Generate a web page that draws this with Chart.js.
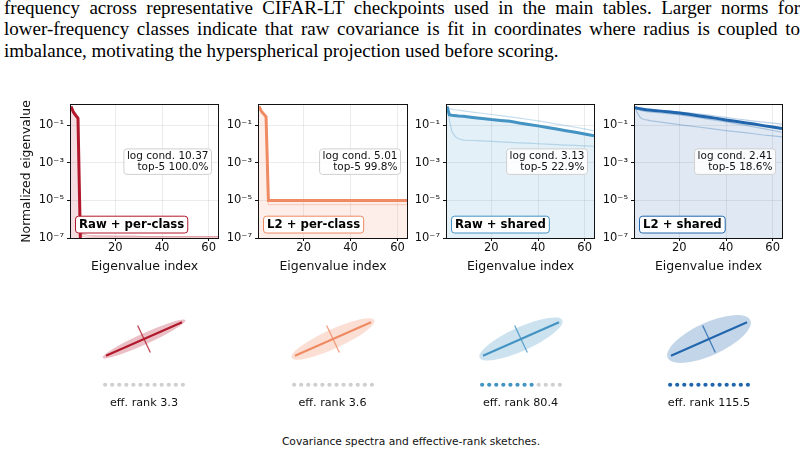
<!DOCTYPE html>
<html>
<head>
<meta charset="utf-8">
<script src="https://cdn.jsdelivr.net/npm/chart.js@4.4.1/dist/chart.umd.min.js"></script>
<style>
  body { margin:0; background:#fff; width:805px; height:454px; overflow:hidden; position:relative; font-family:"DejaVu Sans", sans-serif; color:#111; }
  .para { position:absolute; left:4px; width:796px; font-family:"Liberation Serif", serif; font-size:19px; line-height:21.5px; color:#000; white-space:nowrap; }
  .just { text-align:justify; text-align-last:justify; white-space:normal; height:21.5px; overflow:hidden; }
  canvas { position:absolute; }
  .rank { position:absolute; width:120px; text-align:center; font-size:11.2px; line-height:14px; }
  #caption { position:absolute; left:211px; width:400px; top:435px; text-align:center; font-size:10.7px; line-height:13px; }
</style>
</head>
<body>
<div class="para just" style="top:-3.5px">frequency across representative CIFAR-LT checkpoints used in the main tables. Larger norms for</div>
<div class="para just" style="top:18px">lower-frequency classes indicate that raw covariance is fit in coordinates where radius is coupled to</div>
<div class="para" style="top:39.5px">imbalance, motivating the hyperspherical projection used before scoring.</div>
<div id="caption">Covariance spectra and effective-rank sketches.</div>
<script>
var idx = [1,2,3,4,5,6,8,12,16,20,24,28,32,36,40,44,48,52,56,60,64];

// Raw + per-class
var rawPcMain  = [1.0,0.5,0.33,0.23,9e-8,7e-8,6e-8,5e-8,5e-8,5e-8,5e-8,5e-8,5e-8,5e-8,5e-8,5e-8,5e-8,5e-8,5e-8,5e-8,5e-8];
var rawPcThinA = [1.0,0.6,0.42,0.3,4e-7,1.6e-7,1.4e-7,1.3e-7,1.3e-7,1.25e-7,1.25e-7,1.25e-7,1.2e-7,1.2e-7,1.2e-7,1.2e-7,1.2e-7,1.2e-7,1.2e-7,1.2e-7,1.2e-7];
var rawPcThinB = [0.9,0.45,0.3,0.21,2e-7,1.2e-7,1.1e-7,1.1e-7,1.1e-7,1.1e-7,1.1e-7,1.1e-7,1.1e-7,1.1e-7,1.1e-7,1.1e-7,1.1e-7,1.1e-7,1.1e-7,1.1e-7,1.1e-7];
// L2 + per-class
var l2PcMain = [1.0,0.55,0.4,0.28,1e-5,1e-5,1e-5,1e-5,1e-5,1e-5,1e-5,1e-5,1e-5,1e-5,1e-5,1e-5,1e-5,1e-5,1e-5,1e-5,1e-5];
var l2PcThin = [0.95,0.5,0.36,0.25,6e-6,6e-6,6e-6,6e-6,6e-6,6e-6,6e-6,6e-6,6e-6,6e-6,6e-6,6e-6,6e-6,6e-6,6e-6,6e-6,6e-6];
// Raw + shared
var rawShMain  = [1.0,0.36,0.34,0.33,0.32,0.31,0.295,0.26,0.23,0.2,0.18,0.16,0.13,0.11,0.092,0.076,0.062,0.051,0.042,0.034,0.027];
var rawShUpper = [0.95,0.8,0.72,0.68,0.65,0.63,0.58,0.5,0.43,0.37,0.32,0.28,0.24,0.2,0.17,0.14,0.115,0.095,0.078,0.063,0.05];
var rawShLower = [1.0,0.2,0.05,0.03,0.022,0.019,0.016,0.0153,0.0145,0.0137,0.013,0.0122,0.0116,0.011,0.0103,0.0098,0.0093,0.0088,0.0084,0.008,0.0076];
// L2 + shared
var l2ShMain  = [0.87,0.8,0.76,0.72,0.69,0.66,0.62,0.56,0.5,0.44,0.38,0.32,0.27,0.23,0.19,0.16,0.135,0.115,0.095,0.08,0.066];
var l2ShUpper = [0.9,0.84,0.8,0.77,0.74,0.72,0.68,0.62,0.56,0.5,0.45,0.4,0.35,0.3,0.26,0.22,0.19,0.165,0.145,0.13,0.115];
var l2ShMid   = [0.87,0.7,0.62,0.58,0.55,0.53,0.5,0.45,0.4,0.35,0.3,0.26,0.21,0.18,0.15,0.12,0.1,0.08,0.065,0.052,0.042];
var l2ShLower = [0.87,0.45,0.28,0.22,0.2,0.19,0.17,0.145,0.125,0.107,0.093,0.08,0.07,0.06,0.052,0.045,0.04,0.035,0.03,0.027,0.024];

var names   = ['Raw + per-class', 'L2 + per-class', 'Raw + shared', 'L2 + shared'];
var logCond = [10.37, 5.01, 3.13, 2.41];
var top5    = [100.0, 99.8, 22.9, 18.6];
var effRank = [3.3, 3.6, 80.4, 115.5];
var dotsOn  = [0, 0, 8, 12];        // filled dots out of 12
var aspect  = [0.12, 0.21, 0.26, 0.36]; // ellipse minor/major
var xTicks = [20, 40, 60];
var yTicks = [1e-7, 1e-5, 1e-3, 1e-1];

var colors = ['#b2182b', '#ef8a62', '#4393c3', '#2166ac'];
var rgb = [[178,24,43], [239,138,98], [67,147,195], [33,102,172]];
var panelSeries = [
  [rawPcMain, rawPcThinA, rawPcThinB],
  [l2PcMain, l2PcThin],
  [rawShMain, rawShUpper, rawShLower],
  [l2ShMain, l2ShUpper, l2ShMid, l2ShLower]
];

// layout of the four panels (pixels on the page)
var canvasLeft = [0, 222, 410, 598];
var plotLeft   = [71, 259, 447, 635];
var plotRight  = [218, 407, 594, 782];
var sketchX    = [144, 332.5, 520.5, 709];

var FONT = '"DejaVu Sans", sans-serif';
var SUP = {'-':'\u207b','0':'\u2070','1':'\u00b9','2':'\u00b2','3':'\u00b3','4':'\u2074','5':'\u2075','6':'\u2076','7':'\u2077','8':'\u2078','9':'\u2079'};

function pts(ys) {
  return ys.map(function(v, k) { return {x: idx[k], y: v}; });
}
function rgba(c, a) { return 'rgba(' + c[0] + ',' + c[1] + ',' + c[2] + ',' + a + ')'; }

var framePlugin = {
  id: 'frame',
  afterDraw: function(chart) {
    var a = chart.chartArea, ctx = chart.ctx;
    ctx.save();
    ctx.strokeStyle = '#111';
    ctx.lineWidth = 1;
    ctx.strokeRect(Math.round(a.left) - 0.5, Math.round(a.top) - 0.5, Math.round(a.right - a.left) + 1, Math.round(a.bottom - a.top) + 1);
    ctx.restore();
  }
};

var boxPlugin = {
  id: 'boxes',
  afterDatasetsDraw: function(chart, args, opts) {
    var a = chart.chartArea, ctx = chart.ctx, i = opts.panel;
    ctx.save();
    // stats box, top right
    ctx.font = '10.5px ' + FONT;
    var l1 = 'log cond. ' + logCond[i].toFixed(2);
    var l2 = 'top-5 ' + top5[i].toFixed(1) + '%';
    var w = Math.max(ctx.measureText(l1).width, ctx.measureText(l2).width) + 6;
    var right = a.right - 6.5, top = a.top + 44, h = 25.5;
    ctx.beginPath();
    ctx.roundRect(right - w, top, w, h, 3);
    ctx.fillStyle = 'rgba(255,255,255,0.85)';
    ctx.fill();
    ctx.strokeStyle = '#d0d0d0';
    ctx.lineWidth = 1;
    ctx.stroke();
    ctx.fillStyle = '#111';
    ctx.textAlign = 'right';
    ctx.textBaseline = 'middle';
    ctx.fillText(l1, right - 3, top + 7);
    ctx.fillText(l2, right - 3, top + 18.5);
    // name box, bottom left
    ctx.font = 'bold 11.7px ' + FONT;
    var nw = ctx.measureText(names[i]).width + 7;
    var nl = a.left + 4.5, nt = a.top + 111.3, nh = 16.8;
    ctx.beginPath();
    ctx.roundRect(nl, nt, nw, nh, 3);
    ctx.fillStyle = '#fff';
    ctx.fill();
    ctx.strokeStyle = colors[i];
    ctx.stroke();
    ctx.fillStyle = '#000';
    ctx.textAlign = 'left';
    ctx.fillText(names[i], nl + 3.5, nt + nh / 2 + 0.5);
    ctx.restore();
  }
};

function spectrumChart(i) {
  var cv = document.createElement('canvas');
  var width = plotRight[i] + 4 - canvasLeft[i];
  cv.width = width; cv.height = 183;
  cv.style.left = canvasLeft[i] + 'px';
  cv.style.top = '95px';
  document.body.appendChild(cv);

  var series = panelSeries[i];
  var datasets = [{
    data: pts(series[0]),
    borderColor: colors[i],
    borderWidth: 3,
    fill: 'start',
    backgroundColor: rgba(rgb[i], 0.14)
  }];
  for (var k = 1; k < series.length; k++) {
    datasets.push({
      data: pts(series[k]),
      borderColor: rgba(rgb[i], 0.3),
      borderWidth: 1.2,
      fill: false
    });
  }

  var yAxisWidth = plotLeft[i] - canvasLeft[i];
  return new Chart(cv, {
    type: 'line',
    data: { datasets: datasets },
    options: {
      responsive: false,
      animation: false,
      devicePixelRatio: 1,
      layout: { padding: { top: 7, right: 4, left: 0, bottom: 0 } },
      elements: { point: { radius: 0 }, line: { tension: 0 } },
      plugins: { legend: { display: false }, tooltip: { enabled: false }, boxes: { panel: i } },
      scales: {
        x: {
          type: 'linear', min: 1, max: 64,
          afterBuildTicks: function(s) { s.ticks = xTicks.map(function(v) { return {value: v}; }); },
          afterFit: function(s) { s.height = 40; },
          grid: { color: 'rgba(0,0,0,0.08)', tickColor: '#111', tickLength: 3 },
          border: { display: false },
          ticks: { font: { size: 11.5, family: FONT }, color: '#111', padding: 0, maxRotation: 0 },
          title: { display: true, text: 'Eigenvalue index', font: { size: 12.5, family: FONT }, color: '#111', padding: { top: 0, bottom: 4 } }
        },
        y: {
          type: 'logarithmic', min: 1e-7, max: 1.2,
          afterBuildTicks: function(s) { s.ticks = yTicks.map(function(v) { return {value: v}; }); },
          afterFit: function(s) { s.width = yAxisWidth; },
          grid: { color: 'rgba(0,0,0,0.08)', tickColor: '#111', tickLength: 4 },
          border: { display: false },
          ticks: {
            font: { size: 11.5, family: FONT }, color: '#111', padding: 3,
            callback: function(v) {
              var p = String(Math.round(Math.log10(v)));
              return '10' + p.split('').map(function(ch) { return SUP[ch]; }).join('');
            }
          },
          title: { display: i === 0, text: 'Normalized eigenvalue', font: { size: 12.4, family: FONT }, color: '#111', padding: { top: 19.2, bottom: 0 } }
        }
      }
    },
    plugins: [framePlugin, boxPlugin]
  });
}

// ellipse sketch: semi-major, drawn axes, tilt
var SEMI_MAJOR = 0.946, MAJOR_LINE = 0.87, MINOR_LINE = 0.32, TILT = 24.4 * Math.PI / 180;

var ellipsePlugin = {
  id: 'ellipse',
  beforeDatasetsDraw: function(chart, args, opts) {
    var i = opts.panel, ctx = chart.ctx;
    var xs = chart.scales.x, ys = chart.scales.y;
    var cx = xs.getPixelForValue(0), cy = ys.getPixelForValue(0);
    var ppu = xs.getPixelForValue(1) - cx;
    ctx.save();
    ctx.beginPath();
    ctx.ellipse(cx, cy, SEMI_MAJOR * ppu, SEMI_MAJOR * aspect[i] * ppu, -TILT, 0, Math.PI * 2);
    ctx.fillStyle = rgba(rgb[i], 0.27);
    ctx.fill();
    ctx.restore();
  }
};

function sketchChart(i) {
  var cv = document.createElement('canvas');
  cv.width = 200; cv.height = 120;
  cv.style.left = (sketchX[i] - 100) + 'px';
  cv.style.top = '279px';
  document.body.appendChild(cv);

  var dots = [], dotCols = [];
  for (var k = 0; k < 12; k++) {
    dots.push({x: -0.81 + k * 0.1473, y: -0.98});
    dotCols.push(k < dotsOn[i] ? colors[i] : '#cfcfcf');
  }
  var c = Math.cos(TILT), s = Math.sin(TILT);
  new Chart(cv, {
    type: 'scatter',
    data: { datasets: [
      { data: [{x: -MAJOR_LINE * c, y: -MAJOR_LINE * s}, {x: MAJOR_LINE * c, y: MAJOR_LINE * s}],
        showLine: true, borderColor: colors[i], borderWidth: 2, pointRadius: 0 },
      { data: [{x: -MINOR_LINE * s, y: MINOR_LINE * c}, {x: MINOR_LINE * s, y: -MINOR_LINE * c}],
        showLine: true, borderColor: rgba(rgb[i], 0.8), borderWidth: 1.3, pointRadius: 0 },
      { data: dots, pointRadius: 2.1, pointBackgroundColor: dotCols, pointBorderWidth: 0 }
    ] },
    options: {
      responsive: false, animation: false, devicePixelRatio: 1,
      layout: { padding: 0 },
      plugins: { legend: { display: false }, tooltip: { enabled: false }, ellipse: { panel: i } },
      scales: { x: { display: false, min: -2, max: 2 }, y: { display: false, min: -1.2, max: 1.2 } }
    },
    plugins: [ellipsePlugin]
  });

  var lab = document.createElement('div');
  lab.className = 'rank';
  lab.style.left = (sketchX[i] - 60) + 'px';
  lab.style.top = '396px';
  lab.textContent = 'eff. rank ' + effRank[i].toFixed(1);
  document.body.appendChild(lab);
}

for (var p = 0; p < 4; p++) {
  spectrumChart(p);
  sketchChart(p);
}
</script>
</body>
</html>
